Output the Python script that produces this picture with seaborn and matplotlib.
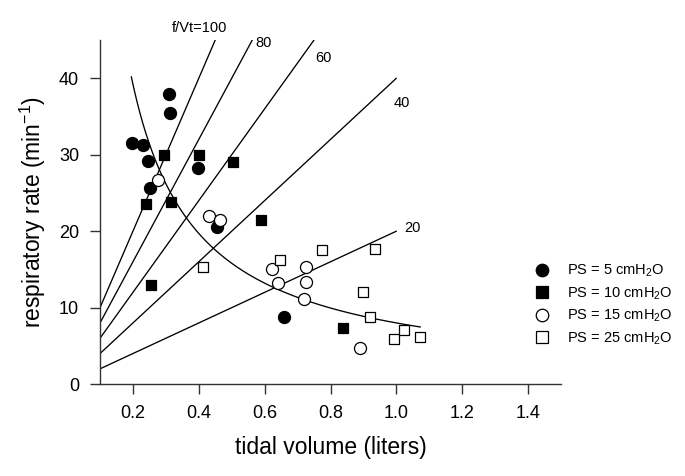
import numpy as np
import pandas as pd
import matplotlib
matplotlib.use('Agg')
import matplotlib.pyplot as plt
from matplotlib.lines import Line2D
import seaborn as sns

###############
### Data.   ###
###############
# PS = 5 cmH2O (filled circles)
ps5_vt = [0.197, 0.230, 0.246, 0.253, 0.309, 0.314, 0.399, 0.455, 0.658]
ps5_f = [31.5, 31.3, 29.2, 25.6, 37.9, 35.5, 28.3, 20.6, 8.8]
# PS = 10 cmH2O (filled squares)
ps10_vt = [0.240, 0.255, 0.294, 0.315, 0.402, 0.504, 0.590, 0.838]
ps10_f = [23.5, 13.0, 29.9, 23.8, 29.9, 29.1, 21.5, 7.4]
# PS = 15 cmH2O (open circles)
ps15_vt = [0.277, 0.430, 0.465, 0.622, 0.641, 0.718, 0.726, 0.727, 0.891]
ps15_f = [26.7, 22.0, 21.4, 15.0, 13.2, 11.1, 15.3, 13.3, 4.7]
# PS = 25 cmH2O (open squares)
ps25_vt = [0.412, 0.646, 0.775, 0.900, 0.921, 0.936, 0.994, 1.024, 1.071]
ps25_f = [15.3, 16.2, 17.5, 12.0, 8.8, 17.7, 5.9, 7.1, 6.2]

groups = ['PS = 5 cmH$_2$O', 'PS = 10 cmH$_2$O', 'PS = 15 cmH$_2$O', 'PS = 25 cmH$_2$O']

# Iso f/Vt lines
fvt_ratios = [100, 80, 60, 40, 20]
fvt_labels = ['f/Vt=100', '80', '60', '40', '20']

# Fitted curve f = a + b / Vt
curve_a, curve_b = 0.2, 7.8
curve_vt_range = (0.195, 1.073)

##################
### Dataframe. ###
##################
df = pd.concat([
    pd.DataFrame({'vt': ps5_vt, 'f': ps5_f, 'group': groups[0]}),
    pd.DataFrame({'vt': ps10_vt, 'f': ps10_f, 'group': groups[1]}),
    pd.DataFrame({'vt': ps15_vt, 'f': ps15_f, 'group': groups[2]}),
    pd.DataFrame({'vt': ps25_vt, 'f': ps25_f, 'group': groups[3]}),
], ignore_index = True)

markers = dict(zip(groups, ['o', 's', 'o', 's']))
faces = dict(zip(groups, ['black', 'black', 'white', 'white']))
sizes = dict(zip(groups, [75, 60, 75, 60]))

#############
### Plot. ###
#############
sns.set_style('ticks')
plt.rcParams['font.family'] = ['Liberation Sans', 'DejaVu Sans']
plt.rcParams['mathtext.fontset'] = 'custom'
plt.rcParams['mathtext.rm'] = 'Liberation Sans'
plt.rcParams['mathtext.it'] = 'Liberation Sans:italic'
plt.rcParams['text.color'] = 'black'
plt.rcParams['axes.labelcolor'] = 'black'

fig = plt.figure(figsize = (6.85, 4.76), dpi = 100)
ax = fig.add_axes([0.146, 0.193, 0.673, 0.723])

# Iso f/Vt lines
for k in fvt_ratios :
    x_end = min(1.0, 45.0 / k)
    line_df = pd.DataFrame({'vt': [0.1, x_end], 'f': [0.1 * k, x_end * k]})
    sns.lineplot(data = line_df, x = 'vt', y = 'f', color = 'black', linewidth = 0.95, ax = ax)

# Fitted curve
curve_vt = np.linspace(curve_vt_range[0], curve_vt_range[1], 200)
curve_df = pd.DataFrame({'vt': curve_vt, 'f': curve_a + curve_b / curve_vt})
sns.lineplot(data = curve_df, x = 'vt', y = 'f', color = 'black', linewidth = 0.95, ax = ax, sort = False)

# Points
for g in groups :
    sub = df[df['group'] == g]
    sns.scatterplot(
        data = sub, x = 'vt', y = 'f',
        marker = markers[g], s = sizes[g],
        color = faces[g], edgecolor = 'black', linewidth = 0.9,
        ax = ax, zorder = 3, legend = False
    )

# Line labels
label_pos = [(0.318, 46.6), (0.572, 44.6), (0.754, 42.6), (0.991, 36.7), (1.025, 20.4)]
for text, (x, y) in zip(fvt_labels, label_pos) :
    ax.text(x, y, text, fontsize = 10.5, ha = 'left', va = 'center', clip_on = False)

ax.set_xlim(0.1, 1.5)
ax.set_ylim(0, 45)
ax.set_xticks([0.2, 0.4, 0.6, 0.8, 1.0, 1.2, 1.4])
ax.set_xticklabels(['0.2', '0.4', '0.6', '0.8', '1.0', '1.2', '1.4'])
ax.set_yticks([0, 10, 20, 30, 40])
ax.tick_params(axis = 'both', direction = 'out', length = 7, width = 1, labelsize = 13, pad = 8,
               color = '#333333', labelcolor = 'black')
sns.despine(ax = ax)
for sp in ['left', 'bottom'] :
    ax.spines[sp].set_linewidth(1)
    ax.spines[sp].set_color('#333333')

ax.set_xlabel('tidal volume (liters)', fontsize = 16.5, labelpad = 10)
ax.set_ylabel('respiratory rate (min$^{-1}$)', fontsize = 16.5, labelpad = 8)

handles = [
    Line2D([], [], linestyle = 'none', marker = markers[g], markersize = 9 if markers[g] == 'o' else 8,
           markerfacecolor = faces[g], markeredgecolor = 'black', markeredgewidth = 0.9)
    for g in groups
]
ax.legend(handles, groups, loc = 'center left', bbox_to_anchor = (0.915, 0.23), frameon = False,
          fontsize = 10.5, handletextpad = 1.2, labelspacing = 0.42, handlelength = 1.0)

fig.savefig('out.png', dpi = 100)
